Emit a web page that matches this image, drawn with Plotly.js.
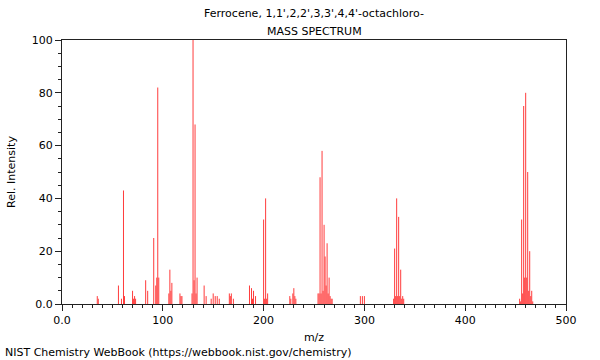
<!DOCTYPE html>
<html>
<head>
<meta charset="utf-8">
<script src="https://cdn.plot.ly/plotly-3.0.1.min.js"></script>
<style>html,body{margin:0;padding:0;background:#fff;}#chart{width:600px;height:360px;}</style>
</head>
<body>
<div id="chart"></div>
<script>
// m/z values and relative intensities
const mz = [35, 36, 56, 59, 61, 62, 70, 71, 72, 73, 83, 85, 91, 93, 94, 95, 96,
  106, 107, 108, 109, 117, 118, 119, 129, 130, 131, 132, 133, 134, 141, 143,
  148, 150, 152, 154, 156, 166, 167, 168, 170, 186, 188, 189, 190, 192,
  200, 201, 202, 203, 204, 226, 227, 229, 230, 231, 232,
  254, 255, 256, 257, 258, 259, 260, 261, 262, 263, 264, 265, 266, 267, 268,
  296, 298, 300, 329, 330, 331, 332, 333, 334, 335, 336, 337, 338, 339,
  454, 455, 456, 457, 458, 459, 460, 461, 462, 463, 464, 465, 466, 467];
const intensity = [3, 2, 7, 2, 43, 3, 5, 2, 3, 2, 9, 5, 25, 7, 10, 82, 10,
  4, 13, 5, 8, 4, 3, 3, 4, 100, 9, 68, 4, 10, 7, 3,
  2, 4, 3, 3, 2, 4, 3, 4, 2, 7, 6, 2, 5, 3,
  32, 2, 40, 2, 4, 3, 2, 4, 6, 3, 2,
  4, 4, 48, 4, 58, 5, 30, 18, 7, 23, 4, 10, 3, 2, 2,
  3, 3, 3, 2, 21, 3, 40, 3, 33, 3, 13, 2, 3, 2,
  2, 1, 32, 4, 75, 10, 80, 10, 50, 5, 20, 3, 5, 1];
const xTickVals = [0, 100, 200, 300, 400, 500];
const xTickText = ["0.0", "100", "200", "300", "400", "500"];
const yTickVals = [0, 20, 40, 60, 80, 100];
const yTickText = ["0.0", "20", "40", "60", "80", "100"];
const titleLine1 = "Ferrocene, 1,1',2,2',3,3',4,4'-octachloro-";
const titleLine2 = "MASS SPECTRUM";
const footer = "NIST Chemistry WebBook (https://webbook.nist.gov/chemistry)";

// build stick segments
const xs = [], ys = [];
mz.forEach((m, i) => { xs.push(m, m, null); ys.push(0, intensity[i], null); });

const font = {family: "DejaVu Sans, sans-serif", size: 11, color: "#000"};
const trace = {
  type: "scatter", mode: "lines", x: xs, y: ys,
  line: {color: "#ff3c3c", width: 1}, hoverinfo: "skip", connectgaps: false
};
const layout = {
  width: 600, height: 360,
  margin: {l: 62, r: 34, t: 40, b: 56, pad: 0},
  paper_bgcolor: "#fff", plot_bgcolor: "#fff",
  font: font, showlegend: false,
  xaxis: {
    range: [0, 500], tickvals: xTickVals, ticktext: xTickText,
    ticks: "outside", ticklen: 6, tickcolor: "#222", tickwidth: 1,
    minor: {dtick: 10, ticks: "outside", ticklen: 3, tickcolor: "#222", showgrid: false},
    showgrid: false, zeroline: false, showline: true, linecolor: "#222", linewidth: 1, mirror: true,
    title: {text: "m/z", font: font, standoff: 7}, automargin: false, fixedrange: true
  },
  yaxis: {
    range: [0, 100], tickvals: yTickVals, ticktext: yTickText,
    ticks: "outside", ticklen: 6, tickcolor: "#222", tickwidth: 1,
    minor: {dtick: 5, ticks: "outside", ticklen: 3, tickcolor: "#222", showgrid: false},
    showgrid: false, zeroline: false, showline: true, linecolor: "#222", linewidth: 1, mirror: true,
    title: {text: "Rel. Intensity", font: font, standoff: 13}, automargin: false, fixedrange: true
  },
  annotations: [
    {text: titleLine1, xref: "paper", yref: "paper", x: 0.5, y: 1.102, xanchor: "center", yanchor: "middle", showarrow: false, font: font},
    {text: titleLine2, xref: "paper", yref: "paper", x: 0.5, y: 1.034, xanchor: "center", yanchor: "middle", showarrow: false, font: font},
    {text: footer, xref: "paper", yref: "paper", x: -0.117, y: -0.182, xanchor: "left", yanchor: "middle", showarrow: false, font: font}
  ]
};
Plotly.newPlot("chart", [trace], layout, {staticPlot: true, displayModeBar: false});
</script>
</body>
</html>
